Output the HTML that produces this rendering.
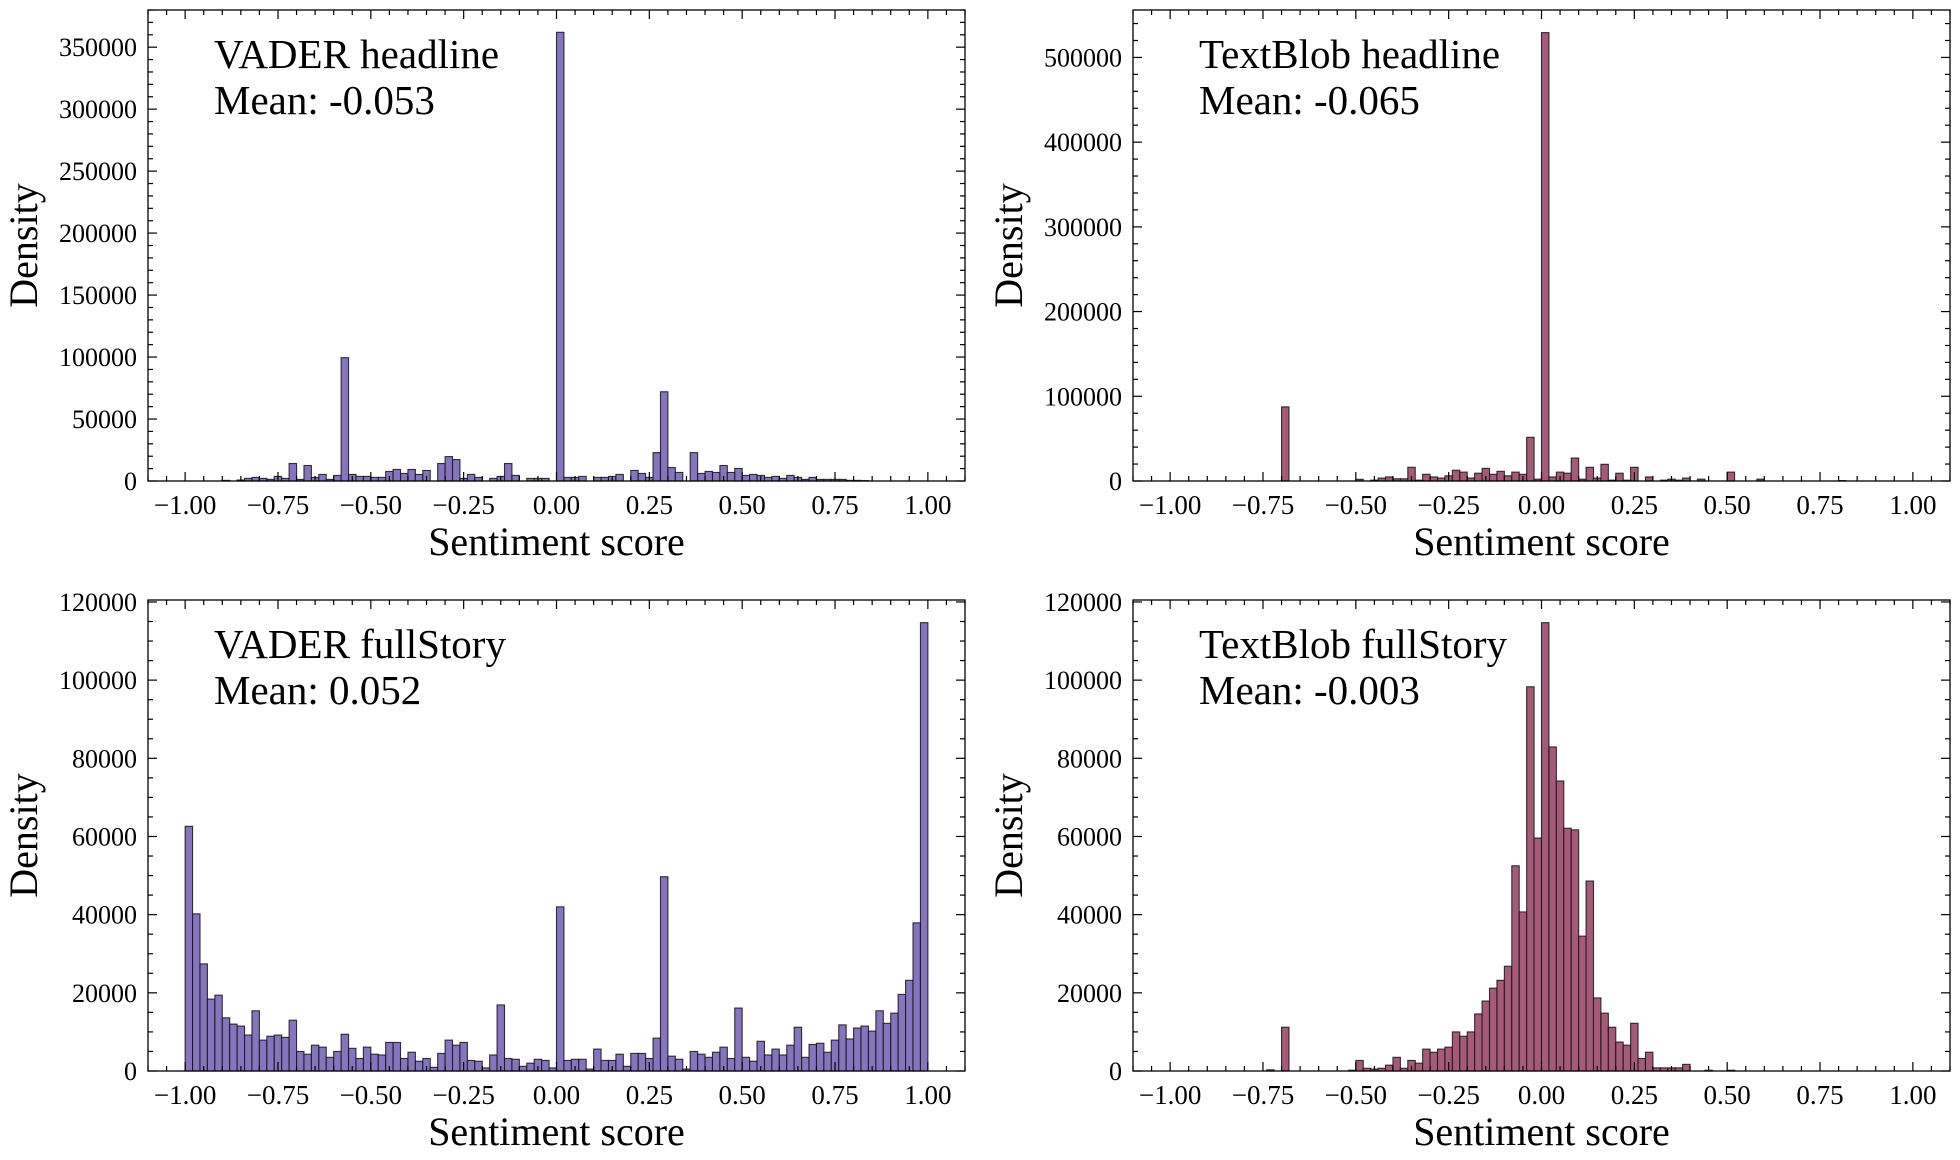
<!DOCTYPE html>
<html><head><meta charset="utf-8"><style>
html,body{margin:0;padding:0;background:#fff;}
svg{display:block;}
text{font-family:"Liberation Serif",serif;fill:#000;}
</style></head><body>
<svg id="fig" width="1960" height="1160" viewBox="0 0 1960 1160" xmlns="http://www.w3.org/2000/svg"></svg>
<script>
// bins: 100 bins of width 0.02 from -1 to 1 (bin k starts at -1 + 0.02k)
const binStart = -1;
const binWidth = 0.02;
const xTicks = [-1.0, -0.75, -0.5, -0.25, 0.0, 0.25, 0.5, 0.75, 1.0];
const xTickLabels = ["\u22121.00","\u22120.75","\u22120.50","\u22120.25","0.00","0.25","0.50","0.75","1.00"];

const vaderHeadline = [0,0,0,0,0,500,0,800,2100,2900,2100,1300,3700,2100,14100,1300,12500,2900,5300,1300,4500,99500,5300,3700,3700,2900,2900,7700,9300,6100,9300,5300,8500,0,14100,19700,17300,2100,5300,2900,0,2100,3700,14100,4500,0,2100,2100,2100,0,
362000,2900,2900,3700,0,2900,2900,3700,5300,0,8500,6100,2900,22900,72000,10900,6900,0,22900,6100,7700,6900,12500,6900,10100,4500,5300,4500,2900,3700,2100,4500,2900,1300,2900,1300,1300,1300,1300,500,500,300,0,0,0,0,0,0,0,0];
const textblobHeadline = [0,0,0,0,0,0,0,0,0,0,0,0,0,0,0,87500,0,0,0,0,0,0,0,0,0,2000,0,1000,3500,4800,2600,2600,16200,1000,7900,4800,3500,6100,12700,10500,3500,9200,14900,7900,11400,6100,10500,7900,51600,2200,
529300,4800,10500,9200,27100,2200,16200,3500,19700,1000,9200,1000,16200,0,4800,0,1000,2200,1000,3500,0,2200,0,0,0,10500,0,0,0,2200,0,0,0,0,0,0,0,0,0,0,500,0,0,0,0,0,0,0,0,0];
const vaderFull = [62600,40200,27400,18400,19400,13600,12000,11500,9200,15400,7900,8900,9200,8600,13000,5000,4300,6600,6100,3500,5000,9400,5800,3200,6100,4300,4100,7300,7300,3200,4800,2500,3200,950,4500,7900,6600,7300,2700,2500,800,4100,16900,3200,3000,1200,2000,3000,2700,800,
42000,2700,3000,3000,500,5600,2700,2700,4300,1200,4500,4500,3200,8400,49700,3800,3000,500,5000,4300,3500,4800,6100,3200,16100,3500,2500,7600,4100,5600,4100,6600,11200,3500,6800,7100,4800,7900,11800,8200,11000,11500,10200,15400,12200,14800,19600,23200,37900,114700];
const textblobFull = [0,0,0,0,0,0,0,0,0,0,0,0,0,300,0,11200,0,0,0,0,0,0,0,0,200,2700,700,500,700,1500,3500,700,2700,2000,5600,4800,5600,6100,10000,8900,10000,14600,17900,21200,23200,26800,52500,40700,98300,59600,
114700,82900,74200,62100,61700,34500,48600,18700,14800,11200,7400,6600,12200,3200,4800,800,800,800,800,1700,0,0,200,0,0,200,0,0,0,0,0,0,0,0,0,0,0,0,0,0,0,0,0,0,0,0,0,0,0,0];

const vhTicks = [0,50000,100000,150000,200000,250000,300000,350000];
const thTicks = [0,100000,200000,300000,400000,500000];
const fullTicks = [0,20000,40000,60000,80000,100000,120000];

const NS = "http://www.w3.org/2000/svg";
const fig = document.getElementById('fig');
function mk(tag, attrs, parent){
  const e = document.createElementNS(NS, tag);
  for (const k in attrs) e.setAttribute(k, attrs[k]);
  (parent||fig).appendChild(e);
  return e;
}

const panels = [
  {name:'vader-headline', left:148, top:10, data:vaderHeadline, ymax:380000, yTicks:vhTicks, yMinor:10000, color:'#8574be', title:'VADER headline', mean:'Mean: -0.053'},
  {name:'textblob-headline', left:1133, top:10, data:textblobHeadline, ymax:556000, yTicks:thTicks, yMinor:20000, color:'#a55a77', title:'TextBlob headline', mean:'Mean: -0.065'},
  {name:'vader-fullstory', left:148, top:600, data:vaderFull, ymax:120500, yTicks:fullTicks, yMinor:5000, color:'#8574be', title:'VADER fullStory', mean:'Mean: 0.052'},
  {name:'textblob-fullstory', left:1133, top:600, data:textblobFull, ymax:120500, yTicks:fullTicks, yMinor:5000, color:'#a55a77', title:'TextBlob fullStory', mean:'Mean: -0.003'}
];
const W = 817, H = 471, XMIN = -1.1, XMAX = 1.1;

panels.forEach(p => {
  const g = mk('g', {});
  
  
  const xs = v => p.left + (v - XMIN) / (XMAX - XMIN) * W;
  const ys = v => p.top + H - v / p.ymax * H;
  const bottom = p.top + H;

  const bars = mk('g', {}, g);
  
  
  p.data.forEach((v, k) => {
    if (v <= 0) return;
    const x0 = xs(binStart + k * binWidth), x1 = xs(binStart + (k + 1) * binWidth);
    const r = mk('rect', {x:x0.toFixed(2), y:ys(v).toFixed(2), width:(x1-x0).toFixed(2), height:(bottom-ys(v)).toFixed(2), fill:p.color, stroke:'rgba(20,20,20,0.85)', 'stroke-width':1.1}, bars);
    
    
  });

  const fr = mk('rect', {x:p.left, y:p.top, width:W, height:H, fill:'none', stroke:'#000', 'stroke-width':1.3}, g);
  
  

  const tk = mk('g', {stroke:'#000', 'stroke-width':1.2}, g);
  
  
  for (let i = -22; i <= 22; i++) {
    const v = i * 0.05; if (v < XMIN || v > XMAX) continue;
    const major = (i % 5 === 0);
    const L = major ? 9 : 5, x = xs(v);
    mk('line', {x1:x, x2:x, y1:bottom, y2:bottom-L}, tk);
    mk('line', {x1:x, x2:x, y1:p.top, y2:p.top+L}, tk);
  }
  xTicks.forEach((v, i) => {
    const t = mk('text', {x:xs(v), y:bottom+33, 'font-size':27, 'text-anchor':'middle'}, g);
    t.textContent = xTickLabels[i];
    
    
  });
  for (let v = 0; v <= p.ymax; v += p.yMinor) {
    const major = p.yTicks.indexOf(v) >= 0;
    const L = major ? 9 : 5, y = ys(v);
    mk('line', {x1:p.left, x2:p.left+L, y1:y, y2:y}, tk);
    mk('line', {x1:p.left+W, x2:p.left+W-L, y1:y, y2:y}, tk);
  }
  p.yTicks.forEach(v => {
    const t = mk('text', {x:p.left-11, y:ys(v)+9, 'font-size':26, 'text-anchor':'end'}, g);
    t.textContent = String(v);
    
    
  });

  const xt = mk('text', {x:p.left+W/2, y:bottom+74, 'font-size':40, 'text-anchor':'middle'}, g);
  xt.textContent = 'Sentiment score';
  
  
  const yt = mk('text', {x:0, y:0, 'font-size':40, 'text-anchor':'middle', transform:`translate(${p.left-111},${p.top+H/2}) rotate(-90)`}, g);
  yt.textContent = 'Density';
  
  

  const a1 = mk('text', {x:p.left+66, y:p.top+58, 'font-size':41}, g);
  a1.textContent = p.title;
  
  
  const a2 = mk('text', {x:p.left+66, y:p.top+104, 'font-size':41}, g);
  a2.textContent = p.mean;
  
  
});
</script>
</body></html>
